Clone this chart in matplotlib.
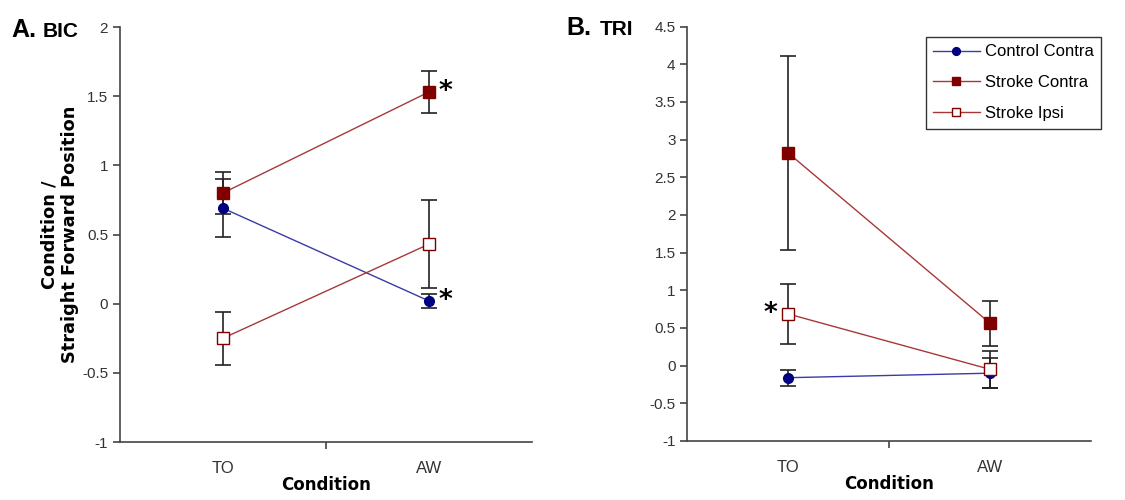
import matplotlib.pyplot as plt
from matplotlib.lines import Line2D

conditions = ['TO', 'AW']
series_names = ['Control Contra', 'Stroke Contra', 'Stroke Ipsi']

bic_means = {
    'Control Contra': [0.69, 0.02],
    'Stroke Contra': [0.80, 1.53],
    'Stroke Ipsi': [-0.25, 0.43],
}
bic_errs = {
    'Control Contra': [0.21, 0.05],
    'Stroke Contra': [0.155, 0.155],
    'Stroke Ipsi': [0.19, 0.32],
}

tri_means = {
    'Control Contra': [-0.16, -0.10],
    'Stroke Contra': [2.82, 0.56],
    'Stroke Ipsi': [0.685, -0.05],
}
tri_errs = {
    'Control Contra': [0.105, 0.20],
    'Stroke Contra': [1.29, 0.30],
    'Stroke Ipsi': [0.395, 0.25],
}

styles = {
    'Control Contra': dict(marker='o', ms=7, mfc='#000080', mec='#000080', color='#3a3aa8'),
    'Stroke Contra': dict(marker='s', ms=8, mfc='#800000', mec='#800000', color='#a83838'),
    'Stroke Ipsi': dict(marker='s', ms=8, mfc='white', mec='#800000', color='#a83838'),
}

tick_font = 'Liberation Sans'
bold_font = 'DejaVu Sans'


def draw_panel(ax, means, errs, ylim, yticks):
    xpos = [0.5, 1.5]
    for name in series_names:
        st = styles[name]
        ax.errorbar(xpos, means[name], yerr=errs[name], ecolor='#222222', elinewidth=1.2,
                    capsize=6, capthick=1.2, lw=1.0, **st)
    ax.set_xlim(0, 2)
    ax.set_ylim(*ylim)
    ax.set_yticks(yticks)
    ax.set_yticklabels([f'{t:g}' for t in yticks], fontfamily=tick_font, fontsize=11, color='#333333')
    ax.set_xticks([1])
    ax.set_xticklabels([''])
    ax.set_xticks(xpos, conditions, minor=True)
    ax.tick_params(axis='x', which='minor', length=0, pad=14, labelsize=12, labelcolor='#333333')
    for lab in ax.get_xticklabels(minor=True):
        lab.set_fontfamily(tick_font)
    ax.tick_params(axis='both', which='major', direction='out', length=5, color='#444444', width=1.2)
    for side in ['top', 'right']:
        ax.spines[side].set_visible(False)
    for side in ['left', 'bottom']:
        ax.spines[side].set_color('#444444')
        ax.spines[side].set_linewidth(1.2)
    ax.set_xlabel('Condition', fontfamily=bold_font, fontweight='bold', fontsize=12, labelpad=0)


fig = plt.figure(figsize=(11.25, 5), dpi=100)
ax1 = fig.add_axes([0.1067, 0.116, 0.366, 0.83])
ax2 = fig.add_axes([0.611, 0.118, 0.359, 0.829])

draw_panel(ax1, bic_means, bic_errs, (-1, 2), [-1, -0.5, 0, 0.5, 1, 1.5, 2])
draw_panel(ax2, tri_means, tri_errs, (-1, 4.5), [-1, -0.5, 0, 0.5, 1, 1.5, 2, 2.5, 3, 3.5, 4, 4.5])

ax1.set_ylabel('Condition /\nStraight Forward Position', fontfamily=bold_font, fontweight='bold',
               fontsize=12.8, labelpad=2, linespacing=1.2)

# significance stars
ax1.text(1.58, bic_means['Stroke Contra'][1], '*', fontsize=19, fontweight='bold', va='center', ha='center')
ax1.text(1.58, bic_means['Control Contra'][1], '*', fontsize=19, fontweight='bold', va='center', ha='center')
ax2.text(0.41, tri_means['Stroke Ipsi'][0], '*', fontsize=19, fontweight='bold', va='center', ha='center')

# panel titles
fig.text(0.010, 0.926, 'A.', fontfamily=tick_font, fontweight='bold', fontsize=18, va='baseline')
fig.text(0.038, 0.926, 'BIC', fontfamily=tick_font, fontweight='bold', fontsize=15, va='baseline')
fig.text(0.503, 0.930, 'B.', fontfamily=tick_font, fontweight='bold', fontsize=18, va='baseline')
fig.text(0.533, 0.930, 'TRI', fontfamily=tick_font, fontweight='bold', fontsize=15, va='baseline')

handles = [Line2D([], [], lw=1.0, **{**styles[n], 'ms': styles[n]['ms'] * 0.8}) for n in series_names]
leg = ax2.legend(handles, series_names, loc='upper left', bbox_to_anchor=(0.59, 0.975), frameon=True,
                 fancybox=False, edgecolor='black', prop={'family': tick_font, 'size': 12},
                 handlelength=2.8, borderpad=0.45, labelspacing=0.95, handletextpad=0.3,
                 borderaxespad=0)
leg.get_frame().set_linewidth(1.0)

fig.savefig('out.png', dpi=100)
